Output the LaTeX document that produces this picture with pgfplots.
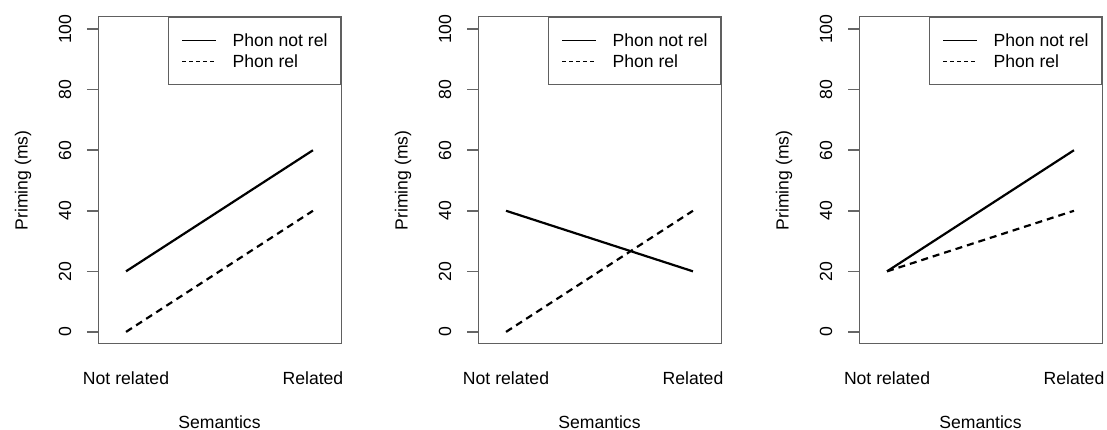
\documentclass[border=0pt]{standalone}
\usepackage{fontspec}
\setmainfont{Liberation Sans}
\usepackage{pgfplots}
\pgfplotsset{compat=1.18}
\definecolor{boxgray}{HTML}{606060}
\newcommand{\rfont}{\fontsize{17.6}{21}\selectfont}
\pgfplotsset{
  rpanel/.style={
    scale only axis, width=243pt, height=327pt,
    xmin=-0.15, xmax=1.15, ymin=-4, ymax=104,
    xtick=\empty,
    extra x ticks={0,1}, extra x tick labels={Not related, Related},
    extra x tick style={major tick length=0pt,
      xticklabel style={anchor=center, yshift=-34pt}},
    ytick={0,20,40,60,80,100},
    ytick pos=left, xtick pos=bottom,
    axis line style={boxgray, line width=1pt},
    major tick length=11pt, tick align=outside,
    tick style={draw=black!60, line width=1.5pt},
    /pgf/number format/assume math mode=true,
    tick label style={font=\rfont, text=black},
    label style={font=\rfont},
    yticklabel style={rotate=90, anchor=center, yshift=22pt},
    xlabel={Semantics}, ylabel={Priming (ms)},
    xlabel style={at={(axis description cs:0.5,0)}, anchor=center, yshift=-78pt},
    ylabel style={at={(axis description cs:-0.3086,0.5)}, anchor=center},
    legend cell align=left,
    legend style={at={(1,1)}, anchor=north east, draw=boxgray, line width=1pt,
      font=\rfont, inner xsep=13pt, inner ysep=12.5pt, row sep=0pt, column sep=16pt,
      nodes={inner xsep=0pt, inner ysep=0pt, minimum height=21pt}},
  },
  solidr/.style={black, line width=2.2pt, line cap=butt,
    legend image code/.code={\draw[black, line width=0.9pt] (0pt,0pt) -- (34pt,0pt);}},
  dashr/.style={black, line width=2.2pt, line cap=butt, dash pattern=on 7pt off 5pt,
    legend image code/.code={\draw[black, line width=0.9pt, dash pattern=on 4pt off 3pt] (0pt,0pt) -- (34pt,0pt);}},
}
\begin{document}
\begin{tikzpicture}
\path[use as bounding box] (0pt,0pt) rectangle (1107pt,430pt);
\begin{axis}[rpanel, at={(98pt,86pt)}, anchor=south west]
\addplot[solidr] coordinates {(0,20) (1,60)};
\addlegendentry{Phon not rel}
\addplot[dashr] coordinates {(0,0) (1,40)};
\addlegendentry{Phon rel}
\end{axis}
\begin{axis}[rpanel, at={(478pt,86pt)}, anchor=south west]
\addplot[solidr] coordinates {(0,40) (1,20)};
\addlegendentry{Phon not rel}
\addplot[dashr] coordinates {(0,0) (1,40)};
\addlegendentry{Phon rel}
\end{axis}
\begin{axis}[rpanel, at={(859pt,86pt)}, anchor=south west]
\addplot[solidr] coordinates {(0,20) (1,60)};
\addlegendentry{Phon not rel}
\addplot[dashr] coordinates {(0,20) (1,40)};
\addlegendentry{Phon rel}
\end{axis}
\end{tikzpicture}
\end{document}
